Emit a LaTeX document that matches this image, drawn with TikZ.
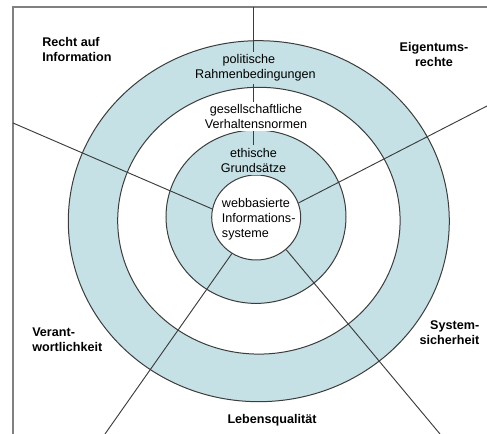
\documentclass[tikz,border=0pt]{standalone}
\usepackage{fontspec}
\setmainfont{Liberation Sans}
\usetikzlibrary{shapes.geometric}
\definecolor{ringblue}{RGB}{197,225,229}
\definecolor{linegray}{RGB}{60,60,60}
\definecolor{framegray}{RGB}{128,128,128}
\begin{document}
\begin{tikzpicture}[x=0.75pt,y=-0.75pt,
  ring/.style={draw=linegray, line width=0.75pt},
  spoke/.style={draw=linegray, line width=0.7pt},
  frameline/.style={draw=framegray, line width=0.8pt},
  lbl/.style={font=\fontsize{9.45pt}{11.25pt}\selectfont, inner sep=0pt},
  blbl/.style={font=\bfseries\fontsize{9.45pt}{11.25pt}\selectfont, inner sep=0pt},
  ringlbl/.style={lbl, align=center, inner xsep=1.5pt, inner ysep=2pt}]
\useasboundingbox (0,0) rectangle (487,434);
% rings
\draw[ring, fill=ringblue] (258.8,221.2) ellipse [x radius=190.5, y radius=180.5];
\draw[ring, fill=white] (258.9,220.7) ellipse [x radius=141.2, y radius=133.4];
\draw[ring, fill=ringblue] (256,216.7) ellipse [x radius=90, y radius=86.7];
\node[ellipse, ring, fill=white, inner sep=0pt, minimum width=66.75pt, minimum height=63.75pt] (core) at (256.2,217.5) {};
% frame
\coordinate (fbl) at (13,434);
\coordinate (ftl) at (13,7);
\coordinate (ftr) at (487,7);
\draw[frameline] (fbl) -- (ftl) -- (ftr);
% spokes
\coordinate (sN) at (253,7);
\coordinate (sW) at (13,123);
\coordinate (sE) at (487,106);
\coordinate (sSW) at (105,434);
\coordinate (sSE) at (440,434);
\draw[spoke] (sN) -- (sN |- core.north);
\draw[spoke] (sW) -- (core.169.6);
\draw[spoke] (sE) -- (core.19);
\draw[spoke] (sSW) -- (core.236.5);
\draw[spoke] (sSE) -- (core.313.5);
% ring labels
\node[ringlbl, fill=ringblue] (pol) at (255.5,68) {politische\hspace*{9.75pt}\\Rahmenbedingungen};
\node[ringlbl, fill=white] (ges) at (256,116.3) {gesellschaftliche\\Verhaltensnormen};
\node[ringlbl, fill=ringblue] (eth) at (253.5,160.2) {ethische\\Grundsätze};
\node[lbl, align=left, anchor=west] (web) at (221.7,219.5) {webbasierte\\Informations-\\systeme};
% outer labels
\node[blbl, align=left, anchor=west] (recht) at (42,49.5) {Recht auf\\Information};
\node[blbl, align=center] (eig) at (434,55) {Eigentums-\\rechte};
\node[blbl, align=left, anchor=west] (ver) at (32,339.5) {Verant-\\wortlichkeit};
\node[blbl, align=right, anchor=east] (sys) at (479.5,333) {System-\\sicherheit};
\node[blbl] (leb) at (272,420) {Lebensqualität};
\end{tikzpicture}
\end{document}
